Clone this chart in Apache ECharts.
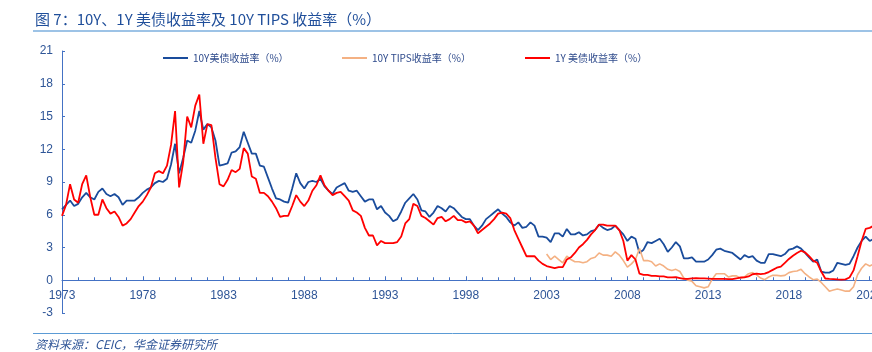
<!DOCTYPE html>
<html>
<head>
<meta charset="utf-8">
<script src="https://cdn.jsdelivr.net/npm/echarts@6/dist/echarts.min.js"></script>
<style>
  html, body { margin: 0; padding: 0; background: #fff; }
  #chart { width: 872px; height: 352px; }
</style>
</head>
<body>
<div id="chart"></div>
<script>
// 季度数据，1973Q1 起
const startYear = 1973;
const TIPS_START = 2003;

const us10y = [
  6.5, 6.9, 7.3, 6.8,  7.0, 7.6, 8.0, 7.6,  7.4, 8.1, 8.4, 7.9,  7.7, 7.9, 7.6, 6.9,
  7.3, 7.3, 7.3, 7.6,  8.0, 8.3, 8.5, 8.9,  9.1, 9.0, 9.3, 10.6, 12.5, 9.8, 11.2, 12.8,
  12.6, 13.7, 15.5, 13.8, 14.3, 14.0, 12.8, 10.5, 10.6, 10.7, 11.7, 11.8, 12.2, 13.6, 12.6, 11.6,
  11.6, 10.5, 10.4, 9.4, 8.4, 7.5, 7.4, 7.2,  7.1, 8.4, 9.8, 8.9,  8.4, 9.0, 9.1, 9.0,
  9.3, 8.6, 8.2, 7.9,  8.5, 8.7, 8.9, 8.2,  8.1, 8.2, 7.7, 7.2,  7.4, 7.4, 6.5, 6.8,
  6.2, 5.9, 5.4, 5.6,  6.3, 7.1, 7.5, 7.9,  7.4, 6.4, 6.3, 5.8,  6.2, 6.8, 6.6, 6.3,
  6.8, 6.6, 6.2, 5.8,  5.6, 5.6, 5.0, 4.6,  5.0, 5.6, 5.9, 6.2,  6.5, 6.1, 5.8, 5.3,
  5.0, 5.3, 4.8, 4.9,  5.3, 5.0, 4.0, 4.0,  3.9, 3.5, 4.3, 4.3,  4.0, 4.7, 4.2, 4.2,
  4.4, 4.1, 4.2, 4.5,  4.6, 5.1, 4.8, 4.6,  4.7, 5.0, 4.6, 4.2,  3.6, 4.0, 3.8, 2.5,
  2.8, 3.5, 3.4, 3.6,  3.8, 3.3, 2.6, 3.0,  3.5, 3.1, 2.0, 2.0,  2.1, 1.7, 1.7, 1.7,
  1.9, 2.3, 2.8, 2.9,  2.7, 2.6, 2.5, 2.2,  1.9, 2.3, 2.1, 2.2,  1.8, 1.6, 1.6, 2.4,
  2.4, 2.3, 2.2, 2.4,  2.8, 2.9, 3.1, 2.9,  2.5, 2.1, 1.7, 1.9,  0.8, 0.7, 0.7, 0.9,
  1.6, 1.5, 1.4, 1.5,  2.2, 3.0, 3.6, 4.0,  3.6, 3.8
];

const us1y = [
  5.9, 6.9, 8.8, 7.4,  7.1, 8.8, 9.6, 7.6,  6.0, 6.0, 7.4, 6.6,  6.1, 6.3, 5.8, 5.0,
  5.2, 5.6, 6.2, 6.8,  7.2, 7.8, 8.5, 9.8,  10.0, 9.8, 10.5, 12.4, 15.5, 8.5, 10.8, 15.0,
  14.0, 16.0, 17.0, 12.5, 14.3, 14.2, 11.2, 8.8, 8.6, 9.2, 10.1, 9.9, 10.2, 12.1, 11.6, 9.5,
  9.3, 8.0, 8.0, 7.7,  7.2, 6.6, 5.8, 5.9,  5.9, 6.8, 7.8, 7.2,  6.8, 7.3, 8.2, 8.7,
  9.6, 8.7, 8.2, 7.8,  8.0, 8.1, 7.7, 7.3,  6.4, 6.2, 5.9, 4.8,  4.1, 4.1, 3.2, 3.6,
  3.4, 3.4, 3.4, 3.5,  4.0, 5.2, 5.6, 7.0,  6.8, 5.9, 5.7, 5.4,  5.1, 5.7, 5.8, 5.4,
  5.6, 5.9, 5.5, 5.5,  5.3, 5.4, 5.0, 4.3,  4.6, 4.9, 5.2, 5.6,  6.1, 6.2, 6.1, 5.7,
  4.6, 3.8, 3.0, 2.2,  2.2, 2.2, 1.8, 1.5,  1.3, 1.2, 1.1, 1.2,  1.2, 1.9, 2.1, 2.5,
  3.0, 3.3, 3.7, 4.2,  4.6, 5.1, 5.1, 5.0,  5.0, 5.0, 4.6, 3.6,  1.8, 2.3, 1.9, 0.6,
  0.5, 0.5, 0.4, 0.4,  0.35, 0.35, 0.27, 0.27, 0.28, 0.2, 0.12, 0.12, 0.17, 0.19, 0.18, 0.17,
  0.15, 0.13, 0.12, 0.12, 0.12, 0.1, 0.11, 0.18, 0.25, 0.26, 0.35, 0.55, 0.6, 0.57, 0.6, 0.75,
  0.95, 1.15, 1.25, 1.6, 1.95, 2.25, 2.5, 2.7, 2.55, 2.2, 1.8, 1.6, 0.8, 0.16, 0.13, 0.11,
  0.08, 0.06, 0.08, 0.25, 0.9, 2.2, 3.6, 4.7, 4.8, 5.0
];

// 2003Q1 起
const tips10y = [
  2.4, 1.9, 2.2, 1.9,  1.6, 2.2, 1.9, 1.7,  1.7, 1.6, 1.7, 2.0,  2.1, 2.5, 2.3, 2.3,
  2.2, 2.6, 2.3, 1.8,  1.2, 1.5, 1.9, 2.9,  1.8, 1.8, 1.7, 1.3,  1.5, 1.3, 1.0, 0.9,
  1.0, 0.8, 0.2, 0.0,  -0.1, -0.5, -0.6, -0.7, -0.6, 0.1, 0.6, 0.6, 0.6, 0.3, 0.4, 0.4,
  0.2, 0.3, 0.6, 0.7,  0.5, 0.2, 0.05, 0.3, 0.45, 0.45, 0.4, 0.45, 0.7, 0.8, 0.85, 1.0,
  0.6, 0.3, 0.05, 0.1, -0.2, -0.6, -1.0, -0.9, -0.8, -0.9, -1.0, -1.0, -0.6, 0.5, 1.1, 1.5,
  1.3, 1.5
];

const names = ['10Y美债收益率（%）', '10Y TIPS收益率（%）', '1Y 美债收益率（%）'];
const colors = ['#1A4C9C', '#F4B183', '#FF0000'];

const yMin = -3, yMax = 21;
const gridTop = 51, gridBottom = 39;

const toPairs = (arr, offsetYears) => arr.map((v, i) => [offsetYears + i / 4, v]);

const myChart = echarts.init(document.getElementById('chart'));

const legendBase = {
  top: 53,
  padding: 0,
  icon: 'rect',
  itemWidth: 25,
  itemHeight: 2,
  textStyle: { color: '#2F4B8C', fontSize: 10, fontFamily: 'Noto Sans CJK SC' },
};

// x 轴画在 0 线上：从底部往上平移
const plotH = 352 - gridTop - gridBottom;
const zeroOffset = -plotH * (0 - yMin) / (yMax - yMin);

const option = {
  backgroundColor: '#fff',
  animation: false,
  title: {
    text: '图 7：10Y、1Y 美债收益率及 10Y TIPS 收益率（%）',
    left: 30,
    top: 7,
    textStyle: { color: '#1F4E9A', fontSize: 15, fontWeight: 'normal', fontFamily: 'Noto Sans CJK SC' },
  },
  graphic: [
    { type: 'line', shape: { x1: 33, y1: 31, x2: 872, y2: 31 }, style: { stroke: '#9DC3E6', lineWidth: 2 } },
    { type: 'line', shape: { x1: 33, y1: 333.5, x2: 872, y2: 333.5 }, style: { stroke: '#5B9BD5', lineWidth: 1 } },
    {
      type: 'text', left: 35, top: 338,
      style: {
        text: '资料来源：CEIC，华金证券研究所',
        fill: '#2F5597', fontSize: 12, fontStyle: 'italic', fontFamily: 'Noto Sans CJK SC',
      },
    },
  ],
  legend: [
    Object.assign({ left: 163, data: [names[0]] }, legendBase),
    Object.assign({ left: 342, data: [names[1]] }, legendBase),
    Object.assign({ left: 525, data: [names[2]] }, legendBase),
  ],
  grid: { left: 62, right: -30, top: gridTop, bottom: gridBottom, outerBoundsMode: 'none', containLabel: false },
  xAxis: {
    type: 'value',
    min: 0,
    max: 52,
    interval: 5,
    position: 'bottom',
    offset: zeroOffset,
    axisLine: { onZero: false, lineStyle: { color: '#4472C4', width: 1 } },
    axisTick: { inside: true, length: 4, lineStyle: { color: '#4472C4' } },
    minorTick: { show: true, splitNumber: 5, length: 3, lineStyle: { color: '#4472C4' } },
    axisLabel: {
      color: '#2E5597', fontSize: 12, fontFamily: 'Liberation Sans', margin: 9,
      formatter: (v) => String(startYear + v),
    },
    splitLine: { show: false },
  },
  yAxis: {
    type: 'value',
    min: yMin,
    max: yMax,
    interval: 3,
    axisLine: { show: true, lineStyle: { color: '#4472C4', width: 1 } },
    axisTick: { show: true, inside: true, length: 3, lineStyle: { color: '#4472C4' } },
    axisLabel: { color: '#2E5597', fontSize: 12, fontFamily: 'Liberation Sans', margin: 9 },
    splitLine: { show: false },
  },
  series: [
    {
      name: names[0], type: 'line', symbol: 'none', z: 2,
      data: toPairs(us10y, 0),
      lineStyle: { color: colors[0], width: 1.8 }, itemStyle: { color: colors[0] },
    },
    {
      name: names[1], type: 'line', symbol: 'none', z: 3,
      data: toPairs(tips10y, TIPS_START - startYear),
      lineStyle: { color: colors[1], width: 1.6 }, itemStyle: { color: colors[1] },
    },
    {
      name: names[2], type: 'line', symbol: 'none', z: 4,
      data: toPairs(us1y, 0),
      lineStyle: { color: colors[2], width: 1.8 }, itemStyle: { color: colors[2] },
    },
  ],
};

myChart.setOption(option);
window.addEventListener('resize', () => {
  myChart.resize();
});
</script>
</body>
</html>
